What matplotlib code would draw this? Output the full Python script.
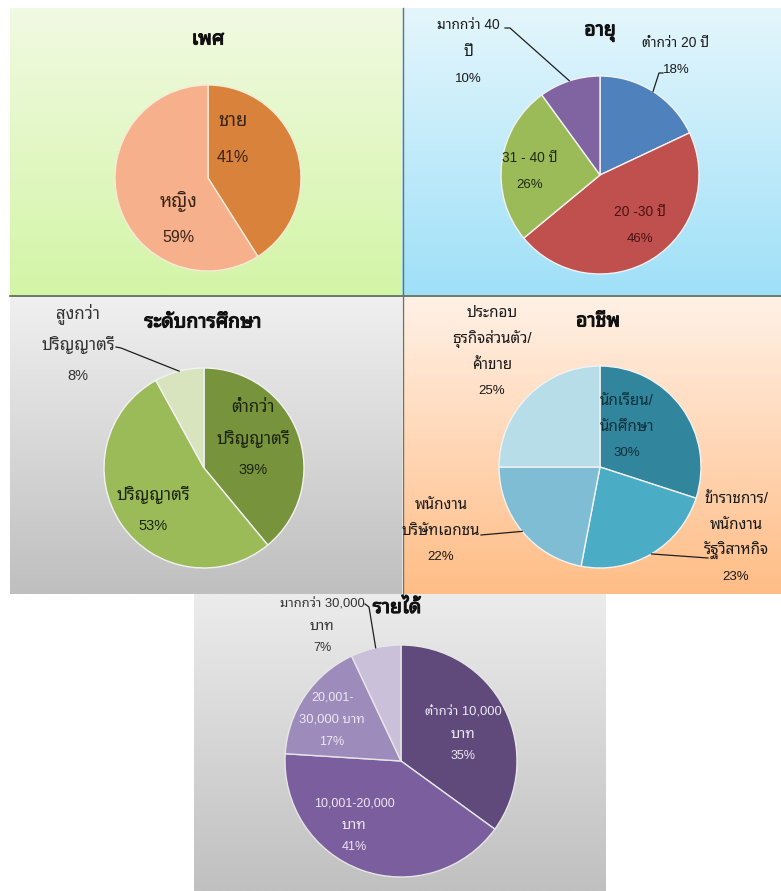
import numpy as np
import matplotlib
matplotlib.use("Agg")
import matplotlib.pyplot as plt
import matplotlib.patheffects as pe
from matplotlib.colors import to_rgb

# data
gender_labels = ['ชาย', 'หญิง']
gender_values = [41, 59]

age_labels = ['ต่ำกว่า 20 ปี', '20 -30 ปี', '31 - 40 ปี', 'มากกว่า 40 ปี']
age_values = [18, 46, 26, 10]

edu_labels = ['ต่ำกว่าปริญญาตรี', 'ปริญญาตรี', 'สูงกว่าปริญญาตรี']
edu_values = [39, 53, 8]

job_labels = ['นักเรียน/นักศึกษา', 'ข้าราชการ/พนักงานรัฐวิสาหกิจ',
              'พนักงานบริษัทเอกชน', 'ประกอบธุรกิจส่วนตัว/ค้าขาย']
job_values = [30, 23, 22, 25]

income_labels = ['ต่ำกว่า 10,000 บาท', '10,001-20,000 บาท',
                 '20,001-30,000 บาท', 'มากกว่า 30,000 บาท']
income_values = [35, 41, 17, 7]

# how the labels are broken into lines on the chart
wraps = {
    'ต่ำกว่าปริญญาตรี': ['ต่ำกว่า', 'ปริญญาตรี'],
    'สูงกว่าปริญญาตรี': ['สูงกว่า', 'ปริญญาตรี'],
    'มากกว่า 40 ปี': ['มากกว่า 40', 'ปี'],
    'นักเรียน/นักศึกษา': ['นักเรียน/', 'นักศึกษา'],
    'ข้าราชการ/พนักงานรัฐวิสาหกิจ': ['ข้าราชการ/', 'พนักงาน', 'รัฐวิสาหกิจ'],
    'พนักงานบริษัทเอกชน': ['พนักงาน', 'บริษัทเอกชน'],
    'ประกอบธุรกิจส่วนตัว/ค้าขาย': ['ประกอบ', 'ธุรกิจส่วนตัว/', 'ค้าขาย'],
    'ต่ำกว่า 10,000 บาท': ['ต่ำกว่า 10,000', 'บาท'],
    '10,001-20,000 บาท': ['10,001-20,000', 'บาท'],
    '20,001-30,000 บาท': ['20,001-', '30,000 บาท'],
    'มากกว่า 30,000 บาท': ['มากกว่า 30,000', 'บาท'],
}

FONT = ['Liberation Sans', 'Noto Sans Thai Looped', 'DejaVu Sans']
W, H = 781, 891

fig = plt.figure(figsize=(7.81, 8.91), dpi=100)
fig.patch.set_facecolor('white')
ax = fig.add_axes([0, 0, 1, 1])
ax.axis('off')


def size_for(line, fs):
    thai = any('\u0e00' <= ch <= '\u0e7f' for ch in line)
    digits = any(ch.isdigit() for ch in line)
    if thai and not digits:
        return fs * 1.15
    if thai:
        return fs * 1.04
    return fs


def panel(x0, y0, x1, y1, top, bottom):
    t = np.linspace(0, 1, 256)[:, None, None]
    c0 = np.array(to_rgb(top))[None, None, :]
    c1 = np.array(to_rgb(bottom))[None, None, :]
    img = c0 * (1 - t) + c1 * t
    ax.imshow(img, extent=(x0, x1, H - y1, H - y0), aspect='auto',
              origin='upper', zorder=0, interpolation='bilinear')


def draw_pie(values, labels, colors, cx, cy, r, title, tpos, lpos, gap, fs,
             tcolors, leaders=None, edge='#f2f2f2'):
    wedges, _ = ax.pie(values, colors=colors, startangle=90, counterclock=False,
                       center=(cx, H - cy), radius=r, frame=True,
                       wedgeprops=dict(edgecolor=edge, linewidth=1.0))
    for w in wedges:
        w.set_zorder(2)
    ax.text(tpos[0], H - tpos[1], title, ha='center', va='center', fontsize=14,
            fontweight='bold', family=FONT, color='#111111', zorder=4,
            path_effects=[pe.withStroke(linewidth=0.8, foreground='#111111')])
    for i, (lab, val) in enumerate(zip(labels, values)):
        lines = wraps.get(lab, [lab]) + ['%d%%' % val]
        x, y = lpos[i]
        for k, line in enumerate(lines):
            ax.text(x, H - (y + k * gap), line, ha='center', va='center',
                    fontsize=size_for(line, fs), family=FONT, color=tcolors[i],
                    zorder=4)
    if leaders:
        for i, pts in leaders.items():
            w = wedges[i]
            mid = np.deg2rad((w.theta1 + w.theta2) / 2)
            ex = cx + r * np.cos(mid)
            ey = (H - cy) + r * np.sin(mid)
            xs = [p[0] for p in pts] + [ex]
            ys = [H - p[1] for p in pts] + [ey]
            ax.plot(xs, ys, color='#1e1e1e', lw=0.9, zorder=3)
    return wedges


# backgrounds
panel(10, 8, 402, 295, '#f1fae2', '#d3f5a6')
panel(402, 8, 781, 295, '#e4f6fc', '#9fe0f8')
panel(10, 296, 402, 594, '#f0f0f0', '#bfbfbf')
panel(403, 296, 781, 594, '#fff1e6', '#ffbd86')
panel(194, 594, 606, 891, '#ececec', '#c0c0c0')

# separators between the screenshots
ax.plot([10, 781], [H - 295.5, H - 295.5], color='#56634f', lw=1.2, zorder=1)
ax.plot([402.5, 402.5], [H - 8, H - 594], color='#6b7566', lw=1.0, zorder=1)

draw_pie(gender_values, gender_labels, ['#d9823b', '#f6b08b'],
         208, 178, 93, 'เพศ', (208, 40),
         [(233, 121), (178, 201)], 37, 11.5, ['#3a2418', '#3a2418'],
         edge='#f6ead8')

draw_pie(age_values, age_labels, ['#4f81bd', '#c0504d', '#9bbb59', '#8064a2'],
         600, 175, 99, 'อายุ', (600, 33),
         [(676, 43), (640, 212), (530, 158), (468, 25)], 27, 9.5,
         ['#1a1a1a', '#4a1212', '#1f2a10', '#1a1a1a'],
         leaders={0: [(663, 73), (659, 73)], 3: [(505, 28), (510, 28)]})

draw_pie(edu_values, edu_labels, ['#77933c', '#9bbb59', '#d7e4bd'],
         204, 468, 100, 'ระดับการศึกษา', (203, 323),
         [(253, 408), (153, 495), (78, 314)], 31, 10.5,
         ['#1c2410', '#1c2410', '#333333'],
         leaders={2: [(116, 347), (121, 348)]})

draw_pie(job_values, job_labels, ['#31859c', '#4bacc6', '#7fbdd5', '#b7dde8'],
         600, 467, 101, 'อาชีพ', (598, 322),
         [(627, 401), (736, 499), (441, 505), (492, 313)], 26, 9.5,
         ['#10303a', '#1a1a1a', '#1a1a1a', '#1a1a1a'],
         leaders={1: [(708, 558)], 2: [(481, 535)]})

draw_pie(income_values, income_labels, ['#604a7b', '#7b5e9e', '#9d8bbb', '#cbc0da'],
         401, 761, 116, 'รายได้', (397, 608),
         [(463, 712), (354, 803), (332, 698), (322, 604)], 22, 9,
         ['#ede8f3', '#ede8f3', '#ede8f3', '#333333'],
         leaders={3: [(365, 604), (369, 607)]}, edge='#e6e6e6')

ax.set_aspect('auto')
ax.set_xlim(0, W)
ax.set_ylim(0, H)
fig.savefig('out.png', dpi=100, facecolor='white')
